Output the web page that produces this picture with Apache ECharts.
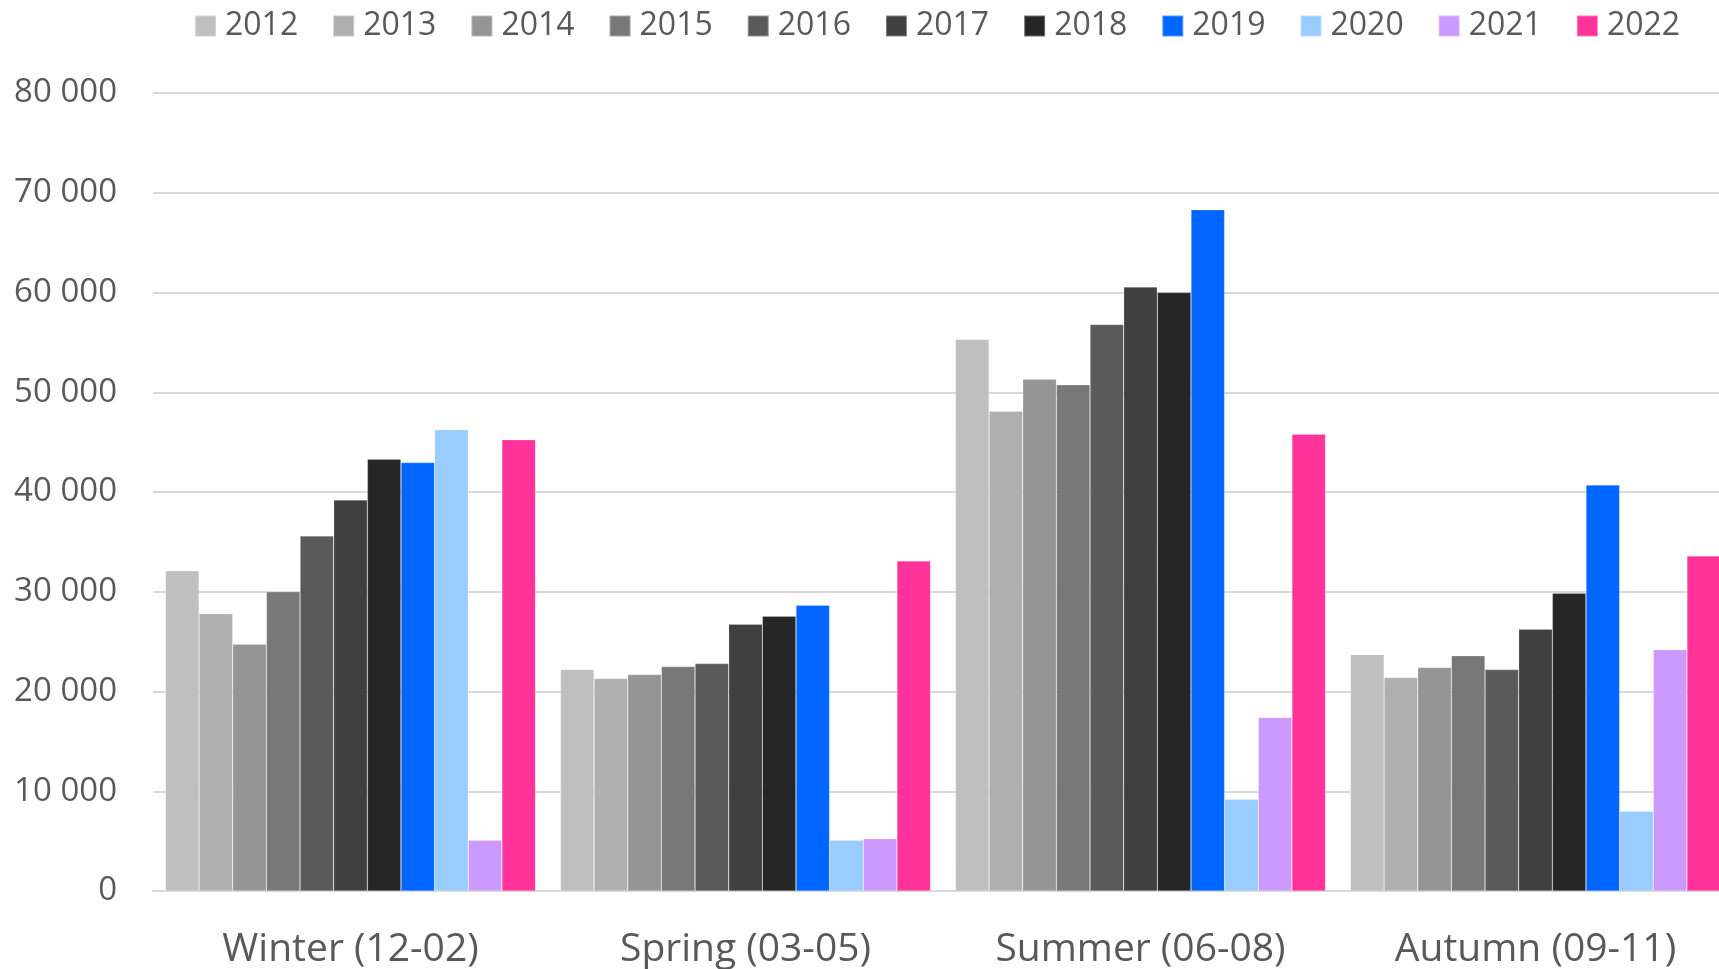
<!DOCTYPE html>
<html>
<head>
<meta charset="utf-8">
<script src="https://cdn.jsdelivr.net/npm/echarts@6/dist/echarts.min.js"></script>
<style>
    html, body { margin: 0; padding: 0; background: #ffffff; overflow: hidden; }
    #chart { width: 1745px; height: 969px; }
</style>
</head>
<body>
<div id="chart"></div>
<script>
var seasons = ['Winter (12-02)', 'Spring (03-05)', 'Summer (06-08)', 'Autumn (09-11)'];
var years = ['2012', '2013', '2014', '2015', '2016', '2017', '2018', '2019', '2020', '2021', '2022'];
var colors = ['#bfbfbf', '#afafaf', '#959595', '#787878', '#5a5a5a', '#404040', '#262626',
    '#0066ff', '#99ccff', '#cc99ff', '#ff3399'];

// values per year, in season order
var v2012 = [32100, 22200, 55300, 23700];
var v2013 = [27800, 21300, 48100, 21400];
var v2014 = [24750, 21700, 51300, 22400];
var v2015 = [30000, 22500, 50750, 23600];
var v2016 = [35600, 22800, 56800, 22200];
var v2017 = [39200, 26750, 60550, 26250];
var v2018 = [43300, 27550, 60000, 29850];
var v2019 = [42950, 28650, 68300, 40700];
var v2020 = [46250, 5100, 9200, 8000];
var v2021 = [5100, 5250, 17400, 24200];
var v2022 = [45250, 33100, 45800, 33600];

var yTicks = [0, 10000, 20000, 30000, 40000, 50000, 60000, 70000, 80000];

var values = [v2012, v2013, v2014, v2015, v2016, v2017, v2018, v2019, v2020, v2021, v2022];
var textColor = '#595959';
var fontName = '"Open Sans", "Noto Sans", sans-serif';

var series = [];
for (var i = 0; i < years.length; i++) {
    series.push({
        name: years[i],
        type: 'bar',
        barGap: 0,
        barCategoryGap: '6.3%',
        itemStyle: {
            color: colors[i],
            borderColor: 'rgba(255,255,255,0.35)',
            borderWidth: 0.6
        },
        data: values[i]
    });
}

// the chart is wider than the window, so the last group is cut at the right edge
var myChart = echarts.init(document.getElementById('chart'), null, {renderer: 'canvas'});
var option = {
    animation: false,
    backgroundColor: '#ffffff',
    textStyle: { fontFamily: fontName },
    legend: {
        data: years,
        left: 189,
        top: 5,
        itemWidth: 21,
        itemHeight: 21,
        itemGap: 34,
        icon: 'rect',
        textStyle: {
            color: textColor,
            fontSize: 32,
            fontFamily: fontName,
            padding: [0, 0, 0, 4]
        }
    },
    grid: {
        left: 153,
        top: 93,
        width: 1580,
        height: 800
    },
    xAxis: {
        type: 'category',
        data: seasons,
        axisTick: { show: false },
        axisLine: { lineStyle: { color: '#d9d9d9', width: 2 } },
        axisLabel: {
            color: textColor,
            fontSize: 39,
            fontFamily: fontName,
            margin: 39
        }
    },
    yAxis: {
        type: 'value',
        min: yTicks[0],
        max: yTicks[yTicks.length - 1],
        interval: yTicks[1] - yTicks[0],
        axisLine: { show: false },
        axisTick: { show: false },
        splitLine: { lineStyle: { color: '#d9d9d9', width: 2 } },
        axisLabel: {
            color: textColor,
            fontSize: 33,
            fontFamily: fontName,
            margin: 36,
            formatter: function (v) {
                return String(v).replace(/\B(?=(\d{3})+(?!\d))/g, ' ');
            }
        }
    },
    series: series
};
myChart.setOption(option);
</script>
</body>
</html>
